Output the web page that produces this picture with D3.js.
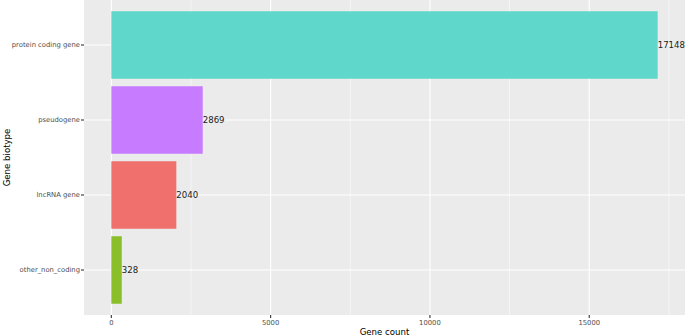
<!DOCTYPE html>
<html>
<head>
<meta charset="utf-8">
<script src="https://cdn.jsdelivr.net/npm/d3@7"></script>
<style>
  body { margin: 0; background: #fff; }
  svg { display: block; font-family: "DejaVu Sans", sans-serif; }
</style>
</head>
<body>
<svg id="chart" width="685" height="336"></svg>
<script>
var categories = ["protein coding gene", "pseudogene", "lncRNA gene", "other_non_coding"];
var counts = [17148, 2869, 2040, 328];
var colors = ["#5fd7cb", "#c77cff", "#f0706d", "#8abf2a"];
var xTicks = [0, 5000, 10000, 15000];
var xMinor = [2500, 7500, 12500, 17500];

var W = 685, H = 336;
var margin = { top: 0, right: 0, bottom: 21, left: 84 };
var pw = W - margin.left - margin.right;
var ph = H - margin.top - margin.bottom;

var svg = d3.select("#chart");
var g = svg.append("g").attr("transform", "translate(" + margin.left + "," + margin.top + ")");

var maxV = d3.max(counts);
var pad = maxV * 0.05;
var x = d3.scaleLinear().domain([-pad, maxV + pad]).range([0, pw]);

// discrete scale with ggplot's 0.6 expansion
var step = ph / (categories.length - 1 + 1.2);
var y = function (i) { return step * 0.6 + i * step; };
var barH = step * 0.9;

g.append("rect").attr("width", pw).attr("height", ph).attr("fill", "#ebebeb");

g.selectAll(".minor").data(xMinor).enter().append("line")
  .attr("x1", function (d) { return x(d); }).attr("x2", function (d) { return x(d); })
  .attr("y1", 0).attr("y2", ph)
  .attr("stroke", "#fff").attr("stroke-width", 0.55);

g.selectAll(".major").data(xTicks).enter().append("line")
  .attr("x1", function (d) { return x(d); }).attr("x2", function (d) { return x(d); })
  .attr("y1", 0).attr("y2", ph)
  .attr("stroke", "#fff").attr("stroke-width", 1.1);

g.selectAll(".hgrid").data(categories).enter().append("line")
  .attr("x1", 0).attr("x2", pw)
  .attr("y1", function (d, i) { return y(i); }).attr("y2", function (d, i) { return y(i); })
  .attr("stroke", "#fff").attr("stroke-width", 1.1);

g.selectAll(".bar").data(counts).enter().append("rect")
  .attr("x", x(0))
  .attr("y", function (d, i) { return y(i) - barH / 2; })
  .attr("width", function (d) { return x(d) - x(0); })
  .attr("height", barH)
  .attr("fill", function (d, i) { return colors[i]; });

g.selectAll(".val").data(counts).enter().append("text")
  .attr("x", function (d) { return x(d); })
  .attr("y", function (d, i) { return y(i); })
  .attr("dy", "0.36em")
  .attr("font-size", 8.6)
  .attr("fill", "#1a1a1a")
  .text(function (d) { return d; });

// y axis
g.selectAll(".ytick").data(categories).enter().append("line")
  .attr("x1", -3).attr("x2", 0)
  .attr("y1", function (d, i) { return y(i); }).attr("y2", function (d, i) { return y(i); })
  .attr("stroke", "#333").attr("stroke-width", 1.1);

g.selectAll(".ylab").data(categories).enter().append("text")
  .attr("x", -4)
  .attr("y", function (d, i) { return y(i); })
  .attr("dy", "0.36em")
  .attr("text-anchor", "end")
  .attr("font-size", 6.8)
  .attr("fill", "#4d4d4d")
  .text(function (d) { return d; });

// x axis
g.selectAll(".xtick").data(xTicks).enter().append("line")
  .attr("x1", function (d) { return x(d); }).attr("x2", function (d) { return x(d); })
  .attr("y1", ph).attr("y2", ph + 3)
  .attr("stroke", "#333").attr("stroke-width", 1.1);

g.selectAll(".xlab").data(xTicks).enter().append("text")
  .attr("x", function (d) { return x(d); })
  .attr("y", ph + 10)
  .attr("text-anchor", "middle")
  .attr("font-size", 6.8)
  .attr("fill", "#4d4d4d")
  .text(function (d) { return d; });

svg.append("text")
  .attr("x", margin.left + pw / 2)
  .attr("y", H - 1.5)
  .attr("text-anchor", "middle")
  .attr("font-size", 8.6)
  .attr("fill", "#000")
  .text("Gene count");

svg.append("text")
  .attr("transform", "translate(10," + (margin.top + ph / 2) + ") rotate(-90)")
  .attr("text-anchor", "middle")
  .attr("font-size", 8.6)
  .attr("fill", "#000")
  .text("Gene biotype");
</script>
</body>
</html>
